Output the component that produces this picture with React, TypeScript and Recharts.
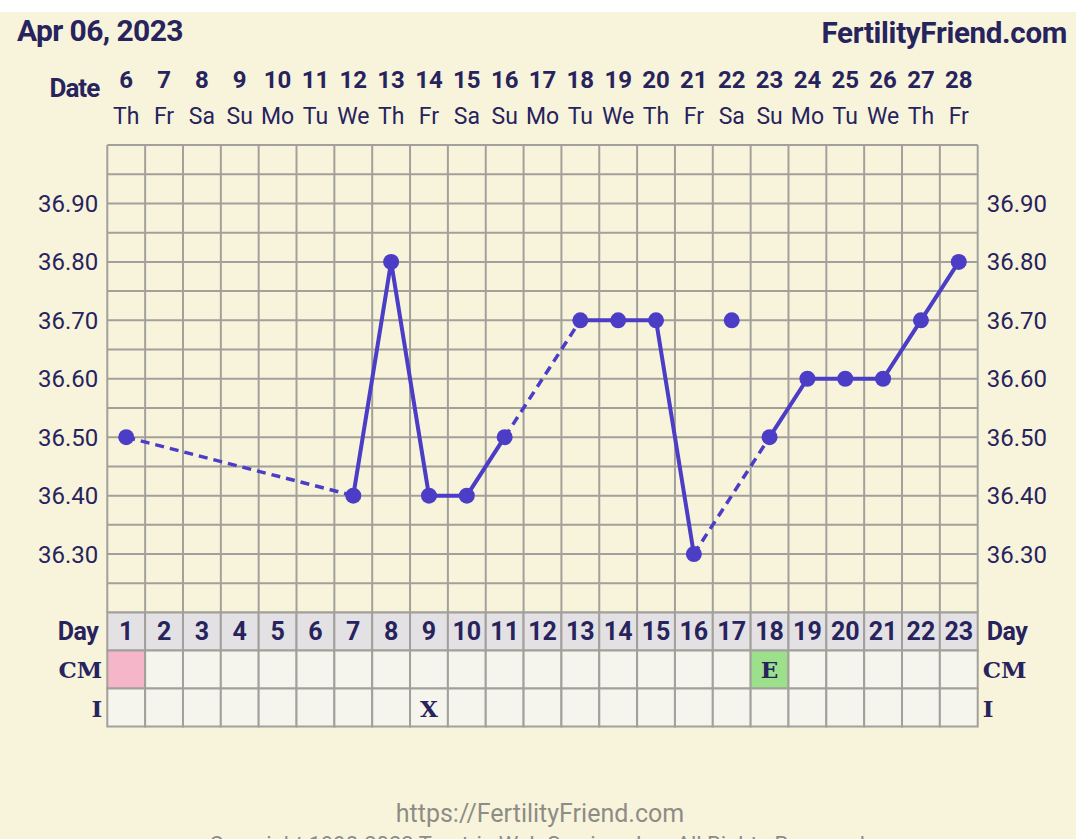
import React from "react";
import { ComposedChart, Line, XAxis, YAxis, CartesianGrid } from "recharts";

const days = [1, 2, 3, 4, 5, 6, 7, 8, 9, 10, 11, 12, 13, 14, 15, 16, 17, 18, 19, 20, 21, 22, 23];
const dates = [6, 7, 8, 9, 10, 11, 12, 13, 14, 15, 16, 17, 18, 19, 20, 21, 22, 23, 24, 25, 26, 27, 28];
const weekdays = ["Th", "Fr", "Sa", "Su", "Mo", "Tu", "We", "Th", "Fr", "Sa", "Su", "Mo", "Tu", "We", "Th", "Fr", "Sa", "Su", "Mo", "Tu", "We", "Th", "Fr"];
const temps: (number | null)[] = [36.5, null, null, null, null, null, 36.4, 36.8, 36.4, 36.4, 36.5, null, 36.7, 36.7, 36.7, 36.3, 36.7, 36.5, 36.6, 36.6, 36.6, 36.7, 36.8];
const excludedDays = [17];
const dashedGaps: [number, number][] = [[1, 7], [11, 13], [16, 18]];
const cmLabels = ["", "", "", "", "", "", "", "", "", "", "", "", "", "", "", "", "", "E", "", "", "", "", ""];
const cmColors = ["#f4b6c8", "", "", "", "", "", "", "", "", "", "", "", "", "", "", "", "", "#9ce08c", "", "", "", "", ""];
const intercourse = ["", "", "", "", "", "", "", "", "X", "", "", "", "", "", "", "", "", "", "", "", "", "", ""];
const gridTicksY = [36.2, 36.25, 36.3, 36.35, 36.4, 36.45, 36.5, 36.55, 36.6, 36.65, 36.7, 36.75, 36.8, 36.85, 36.9, 36.95, 37.0];
const labelTicksY = [36.3, 36.4, 36.5, 36.6, 36.7, 36.8, 36.9];
const gridTicksX = [0.5, 1.5, 2.5, 3.5, 4.5, 5.5, 6.5, 7.5, 8.5, 9.5, 10.5, 11.5, 12.5, 13.5, 14.5, 15.5, 16.5, 17.5, 18.5, 19.5, 20.5, 21.5, 22.5, 23.5];

const NAVY = "#27235c";
const LINE = "#4b3dc6";
const GRID = "#a2a09a";
const ROBOTO = "Roboto, 'Noto Sans', sans-serif";
const SERIF = "'DejaVu Serif', 'Liberation Serif', serif";

const data = days.map((d, i) => {
  const t = temps[i];
  const excl = excludedDays.includes(d);
  const row: any = { day: d, solid: excl ? null : t, excl: excl ? t : null };
  dashedGaps.forEach(([a, b], k) => {
    row["dash" + k] = d === a || d === b ? t : null;
  });
  return row;
});

const DateTick = (props: any) => {
  const { x, y, payload } = props;
  const i = days.indexOf(payload.value);
  return (
    <g>
      <text x={x} y={y - 57} textAnchor="middle" fontFamily={ROBOTO} fontWeight={700} fontSize={24} fill={NAVY}>
        {dates[i]}
      </text>
      <text x={x} y={y - 21} textAnchor="middle" fontFamily={ROBOTO} fontSize={23} fill={NAVY}>
        {weekdays[i]}
      </text>
      {i === 0 && (
        <text x={x - 27} y={y - 48} textAnchor="end" fontFamily={ROBOTO} fontWeight={700} fontSize={26} letterSpacing={-1} fill={NAVY}>
          Date
        </text>
      )}
    </g>
  );
};

const TableTick = (props: any) => {
  const { x, y, payload, width } = props;
  const i = days.indexOf(payload.value);
  const colW = (width || 870.4) / days.length;
  const rowH = 38;
  const left = x - colW / 2;
  const last = i === days.length - 1;
  return (
    <g>
      <rect x={left} y={y} width={colW} height={rowH} fill="#e3e1e3" stroke={GRID} strokeWidth={2} />
      <text x={x} y={y + 27.5} textAnchor="middle" fontFamily={ROBOTO} fontWeight={700} fontSize={25} fill={NAVY}>
        {days[i]}
      </text>
      <rect x={left} y={y + rowH} width={colW} height={rowH} fill={cmColors[i] || "#f5f5ed"} stroke={GRID} strokeWidth={2} />
      <text x={x} y={y + rowH + 27} textAnchor="middle" fontFamily={SERIF} fontWeight={700} fontSize={23} fill={NAVY}>
        {cmLabels[i]}
      </text>
      <rect x={left} y={y + 2 * rowH} width={colW} height={rowH} fill="#f5f5ed" stroke={GRID} strokeWidth={2} />
      <text x={x} y={y + 2 * rowH + 28} textAnchor="middle" fontFamily={SERIF} fontWeight={700} fontSize={23} fill={NAVY}>
        {intercourse[i]}
      </text>
      {i === 0 && (
        <g fill={NAVY} fontWeight={700} textAnchor="end">
          <text x={left - 9} y={y + 27.5} fontFamily={ROBOTO} fontSize={25} letterSpacing={-0.5}>Day</text>
          <text x={left - 5} y={y + rowH + 27} fontFamily={SERIF} fontSize={23}>CM</text>
          <text x={left - 5} y={y + 2 * rowH + 28} fontFamily={SERIF} fontSize={23}>I</text>
        </g>
      )}
      {last && (
        <g fill={NAVY} fontWeight={700} textAnchor="start">
          <text x={left + colW + 9} y={y + 27.5} fontFamily={ROBOTO} fontSize={25} letterSpacing={-0.5}>Day</text>
          <text x={left + colW + 5} y={y + rowH + 27} fontFamily={SERIF} fontSize={23}>CM</text>
          <text x={left + colW + 5} y={y + 2 * rowH + 28} fontFamily={SERIF} fontSize={23}>I</text>
        </g>
      )}
    </g>
  );
};

const fmtY = (v: number) => (labelTicksY.some((t) => Math.abs(t - v) < 1e-6) ? v.toFixed(2) : "");

export default function App() {
  return (
    <div style={{ position: "absolute", left: 0, top: 0, width: 1080, height: 839, background: "#ffffff", overflow: "hidden" }}>
      <div style={{ position: "absolute", left: 0, top: 12, width: 1076, height: 827, background: "#f8f4dc" }} />
      <div style={{ position: "absolute", left: 17, top: 12, fontFamily: ROBOTO, fontWeight: 700, fontSize: 30, letterSpacing: -0.6, color: NAVY, lineHeight: "38px" }}>
        Apr 06, 2023
      </div>
      <div style={{ position: "absolute", right: 13, top: 14, fontFamily: ROBOTO, fontWeight: 700, fontSize: 29.5, letterSpacing: -0.3, color: NAVY, lineHeight: "38px" }}>
        FertilityFriend.com
      </div>
      <div style={{ position: "absolute", left: 0, top: 0 }}>
        <ComposedChart width={1080} height={839} data={data} margin={{ top: 0, right: 0, bottom: 0, left: 0 }}>
          <XAxis
            xAxisId="main"
            dataKey="day"
            type="number"
            domain={[0.5, 23.5]}
            ticks={days}
            interval={0}
            orientation="top"
            height={145}
            axisLine={false}
            tickLine={false}
            tickSize={0}
            tickMargin={0}
            tick={<DateTick />}
            allowDataOverflow
          />
          <XAxis
            xAxisId="table"
            dataKey="day"
            type="number"
            domain={[0.5, 23.5]}
            ticks={days}
            interval={0}
            orientation="bottom"
            height={226.5}
            axisLine={false}
            tickLine={false}
            tickSize={0}
            tickMargin={0}
            tick={<TableTick />}
            allowDataOverflow
          />
          <YAxis
            yAxisId="left"
            orientation="left"
            width={107.3}
            domain={[36.2, 37.0]}
            ticks={gridTicksY}
            interval={0}
            axisLine={false}
            tickLine={false}
            tickSize={0}
            tickMargin={9}
            tickFormatter={fmtY}
            tick={{ fill: NAVY, fontSize: 24, fontFamily: ROBOTO }}
            allowDataOverflow
          />
          <YAxis
            yAxisId="right"
            orientation="right"
            width={102.3}
            domain={[36.2, 37.0]}
            ticks={gridTicksY}
            interval={0}
            axisLine={false}
            tickLine={false}
            tickSize={0}
            tickMargin={9}
            tickFormatter={fmtY}
            tick={{ fill: NAVY, fontSize: 24, fontFamily: ROBOTO, textAnchor: "start" }}
            allowDataOverflow
          />
          <CartesianGrid
            xAxisId="main"
            yAxisId="left"
            verticalValues={gridTicksX}
            stroke={GRID}
            strokeWidth={2}
            fill="none"
          />
          {dashedGaps.map((g, k) => (
            <Line
              key={k}
              xAxisId="main"
              yAxisId="left"
              dataKey={"dash" + k}
              stroke={LINE}
              strokeWidth={3.5}
              strokeDasharray="9 6"
              connectNulls
              dot={false}
              activeDot={false}
              isAnimationActive={false}
            />
          ))}
          <Line
            xAxisId="main"
            yAxisId="left"
            dataKey="solid"
            stroke={LINE}
            strokeWidth={4}
            dot={{ r: 8, fill: LINE, stroke: "none", strokeWidth: 0 }}
            activeDot={false}
            isAnimationActive={false}
          />
          <Line
            xAxisId="main"
            yAxisId="left"
            dataKey="excl"
            stroke="none"
            dot={{ r: 8, fill: LINE, stroke: "none", strokeWidth: 0 }}
            activeDot={false}
            isAnimationActive={false}
          />
        </ComposedChart>
      </div>
      <div style={{ position: "absolute", left: 0, width: 1080, top: 799, textAlign: "center", fontFamily: ROBOTO, fontSize: 25, color: "#8e8c86", lineHeight: "30px" }}>
        https://FertilityFriend.com
      </div>
      <div style={{ position: "absolute", left: 0, width: 1080, top: 830, textAlign: "center", fontFamily: ROBOTO, fontSize: 22, color: "#8e8c86", lineHeight: "30px" }}>
        Copyright 1998-2023 Tamtris Web Services Inc. All Rights Reserved.
      </div>
    </div>
  );
}
